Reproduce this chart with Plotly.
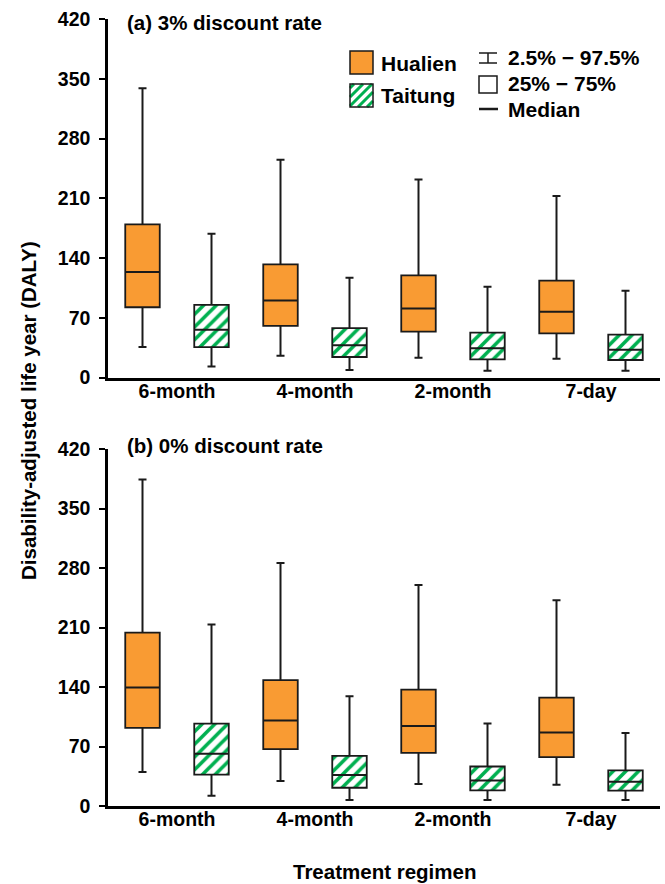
import plotly.graph_objects as go

# ---------------- data ----------------
categories = ["6-month", "4-month", "2-month", "7-day"]
series_names = ["Hualien", "Taitung"]

# (a) 3% discount rate
a_hua_p025 = [35.8, 25.6, 23.2, 22.0]
a_hua_q1 = [82.3, 60.4, 53.7, 51.8]
a_hua_med = [123.5, 90.3, 80.8, 77.1]
a_hua_q3 = [179.5, 132.6, 119.7, 113.4]
a_hua_p975 = [339.0, 255.0, 232.0, 212.7]

a_tai_p025 = [13.0, 8.8, 8.0, 8.0]
a_tai_q1 = [35.5, 24.0, 21.3, 20.5]
a_tai_med = [56.0, 37.7, 34.2, 32.6]
a_tai_q3 = [85.0, 57.8, 52.5, 50.3]
a_tai_p975 = [168.5, 117.0, 106.4, 101.7]

# (b) 0% discount rate
b_hua_p025 = [40.0, 29.5, 26.0, 25.0]
b_hua_q1 = [92.0, 67.0, 62.5, 57.5]
b_hua_med = [139.5, 100.5, 94.0, 86.5]
b_hua_q3 = [204.0, 148.0, 137.0, 127.5]
b_hua_p975 = [384.0, 286.0, 260.0, 242.0]

b_tai_p025 = [12.0, 7.0, 7.0, 7.0]
b_tai_q1 = [37.0, 21.5, 18.5, 18.0]
b_tai_med = [61.5, 36.5, 30.0, 28.5]
b_tai_q3 = [97.0, 59.0, 46.5, 42.0]
b_tai_p975 = [213.5, 129.0, 97.0, 86.0]

y_ticks = [0, 70, 140, 210, 280, 350, 420]

# ---------------- style ----------------
FONT = "Liberation Sans, Arial, sans-serif"
ORANGE = "#F99B33"
GREEN = "#00B050"
EDGE = "#1a1a1a"
W, H = 665, 884
ML, MR, MT, MB = 108, 5, 19, 78
PW, PH = W - ML - MR, H - MT - MB


def px(x):
    return (x - ML) / PW


def py(y):
    return (H - MB - y) / PH


fig = go.Figure()


def add_series(name, xa, ya, p025, q1, med, q3, p975, fill):
    box_h = [b - a for a, b in zip(q1, q3)]
    med_h = [m - a for a, m in zip(q1, med)]
    # whiskers (error bars hanging from the box top)
    fig.add_trace(go.Bar(
        x=categories, base=q1, y=box_h, xaxis=xa, yaxis=ya,
        offsetgroup=name, marker=dict(color="rgba(0,0,0,0)", line=dict(width=0)),
        error_y=dict(type="data", symmetric=False,
                     array=[u - t for u, t in zip(p975, q3)],
                     arrayminus=[t - l for t, l in zip(q3, p025)],
                     width=4, thickness=2, color=EDGE),
        showlegend=False, hoverinfo="skip"))
    # box
    marker = dict(line=dict(color=EDGE, width=1.8))
    if fill == "hatch":
        marker.update(color="white",
                      pattern=dict(shape="/", fgcolor=GREEN, bgcolor="white",
                                   size=9, solidity=0.4, fillmode="replace"))
    else:
        marker.update(color=ORANGE)
    fig.add_trace(go.Bar(
        x=categories, base=q1, y=box_h, xaxis=xa, yaxis=ya,
        offsetgroup=name, marker=marker, name=name, showlegend=False))
    # median
    fig.add_trace(go.Bar(
        x=categories, base=q1, y=med_h, xaxis=xa, yaxis=ya,
        offsetgroup=name, marker=dict(color="rgba(0,0,0,0)", line=dict(width=0)),
        error_y=dict(type="data", symmetric=False,
                     array=[0] * len(categories), arrayminus=[0] * len(categories),
                     width=16.5, thickness=2, color=EDGE),
        showlegend=False, hoverinfo="skip"))


add_series("Hualien", "x", "y", a_hua_p025, a_hua_q1, a_hua_med, a_hua_q3, a_hua_p975, "orange")
add_series("Taitung", "x", "y", a_tai_p025, a_tai_q1, a_tai_med, a_tai_q3, a_tai_p975, "hatch")
add_series("Hualien", "x2", "y2", b_hua_p025, b_hua_q1, b_hua_med, b_hua_q3, b_hua_p975, "orange")
add_series("Taitung", "x2", "y2", b_tai_p025, b_tai_q1, b_tai_med, b_tai_q3, b_tai_p975, "hatch")

ytickfont = dict(family=FONT, size=19.5, color="black", weight="bold")
xtickfont = dict(family=FONT, size=19.5, color="black", weight="bold")
xcommon = dict(type="category", categoryorder="array", categoryarray=categories,
               showline=True, linecolor="black", linewidth=2.5, ticks="",
               showgrid=False, zeroline=False, tickfont=xtickfont, ticklabelstandoff=-6)
ycommon = dict(range=[0, 420], tickvals=y_ticks, showline=True, linecolor="black",
               linewidth=2.5, ticks="outside", ticklen=6, tickwidth=2, tickcolor="black",
               showgrid=False, zeroline=False, tickfont=ytickfont, ticklabelstandoff=5)

shapes = []
annotations = []

# panel titles
title_font = dict(family=FONT, size=20.5, color="black", weight="bold")
annotations.append(dict(xref="paper", yref="paper", x=px(125), y=py(22), xanchor="left",
                        yanchor="middle", text="(a) 3% discount rate", showarrow=False,
                        font=title_font))
annotations.append(dict(xref="paper", yref="paper", x=px(125), y=py(445), xanchor="left",
                        yanchor="middle", text="(b) 0% discount rate", showarrow=False,
                        font=title_font))
# axis titles
annotations.append(dict(xref="paper", yref="paper", x=px(28), y=py(411), xanchor="center",
                        yanchor="middle", text="Disability-adjusted life year (DALY)",
                        textangle=-90, showarrow=False, font=title_font))
annotations.append(dict(xref="paper", yref="paper", x=px(384), y=py(871), xanchor="center",
                        yanchor="middle", text="Treatment regimen", showarrow=False,
                        font=title_font))

# ---------------- manual legend ----------------
leg_font = dict(family=FONT, size=21, color="black", weight="bold")


def rect(x0, y0, x1, y1, fill, lw=1.5):
    shapes.append(dict(type="rect", xref="paper", yref="paper", x0=px(x0), x1=px(x1),
                       y0=py(y1), y1=py(y0), fillcolor=fill,
                       line=dict(color=EDGE, width=lw), layer="above"))


def seg(x0, y0, x1, y1, color=EDGE, lw=1.5):
    shapes.append(dict(type="line", xref="paper", yref="paper", x0=px(x0), x1=px(x1),
                       y0=py(y0), y1=py(y1), line=dict(color=color, width=lw), layer="above"))


def label(x, y, text):
    annotations.append(dict(xref="paper", yref="paper", x=px(x), y=py(y), xanchor="left",
                            yanchor="middle", text=text, showarrow=False, font=leg_font))


# Hualien swatch
rect(350, 51, 373, 74, ORANGE)
label(379, 63, "Hualien")
# Taitung swatch (hatched)
x0, y0, x1, y1 = 350, 84, 373, 107
shapes.append(dict(type="rect", xref="paper", yref="paper", x0=px(x0), x1=px(x1),
                   y0=py(y1), y1=py(y0), fillcolor="white", line=dict(width=0), layer="above"))
k = x0 + y0 + 4
while k < x1 + y1:
    sx0 = max(x0, k - y1)
    sx1 = min(x1, k - y0)
    if sx1 > sx0:
        seg(sx0, k - sx0, sx1, k - sx1, color=GREEN, lw=3)
    k += 9
rect(x0, y0, x1, y1, "rgba(0,0,0,0)")
label(379, 96, "Taitung")

# statistic keys
seg(479, 53, 497, 53)
seg(488, 53, 488, 63)
seg(479, 63, 497, 63)
label(506, 57, "2.5% \u2212 97.5%")
rect(479, 76, 497, 93, "white")
label(506, 83, "25% \u2212 75%")
seg(479, 109, 498, 109, lw=2.5)
label(506, 109, "Median")

fig.update_layout(
    width=W, height=H, margin=dict(l=ML, r=MR, t=MT, b=MB),
    paper_bgcolor="white", plot_bgcolor="white",
    barmode="group", bargap=0, bargroupgap=0.5, showlegend=False,
    xaxis=dict(anchor="y", domain=[0, 1], **xcommon),
    yaxis=dict(anchor="x", domain=[py(377.5), 1], **ycommon),
    xaxis2=dict(anchor="y2", domain=[0, 1], **xcommon),
    yaxis2=dict(anchor="x2", domain=[0, py(449)], **ycommon),
    shapes=shapes, annotations=annotations,
    font=dict(family=FONT, color="black"),
)

fig.write_html("out.html", config={"displayModeBar": False},
               post_script="document.body.style.margin='0';")
